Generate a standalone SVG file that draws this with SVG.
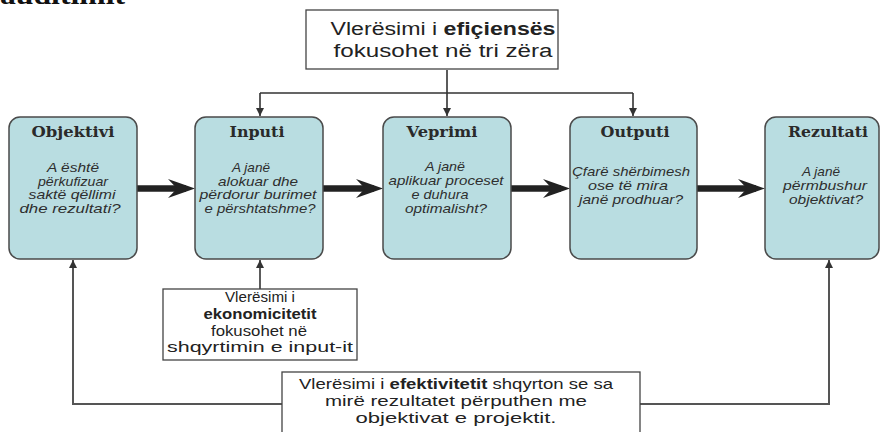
<svg xmlns="http://www.w3.org/2000/svg" width="881" height="432" viewBox="0 0 881 432">
<defs>
<style>
.box{fill:#b9dde1;stroke:#4a4a4a;stroke-width:1.5}
.note{fill:#fff;stroke:#444;stroke-width:1.3}
.title{font-family:"DejaVu Serif","Liberation Serif",serif;font-weight:bold;font-size:15px;fill:#2a2a2a;text-anchor:middle}
.q{font-family:"Liberation Sans",Arial,sans-serif;font-style:italic;font-size:13.5px;fill:#2e2e2e;text-anchor:middle}
.n{font-family:"Liberation Sans",Arial,sans-serif;font-size:15px;fill:#222;text-anchor:middle}
.big{font-size:18px}
.thin{fill:none;stroke:#333;stroke-width:1.6}
.thick{stroke:#222;stroke-width:6.5;fill:none}
</style>
<marker id="ah" markerUnits="userSpaceOnUse" markerWidth="10" markerHeight="10" refX="8" refY="4" orient="auto">
<path d="M0,0 L8,4 L0,8 Z" fill="#333"/>
</marker>
<marker id="big" markerUnits="userSpaceOnUse" markerWidth="28" markerHeight="20" refX="18" refY="9.5" orient="auto">
<path d="M0,0 L27,9.5 L0,19 L9,9.5 Z" fill="#222"/>
</marker>
</defs>
<rect width="881" height="432" fill="#fff"/>
<text x="0" y="4" font-family="Liberation Serif,serif" font-weight="bold" font-size="28" fill="#111" textLength="125" lengthAdjust="spacingAndGlyphs">auditimit</text>

<g id="connectors">
<path class="thin" d="M447,70 V93 M260,93 H633"/>
<path class="thin" d="M260,93 V116" marker-end="url(#ah)"/>
<path class="thin" d="M447,93 V116" marker-end="url(#ah)"/>
<path class="thin" d="M633,93 V116" marker-end="url(#ah)"/>
<path class="thin" d="M260,289 V260" marker-end="url(#ah)"/>
<path class="thin" d="M282,404 H73 V260" marker-end="url(#ah)" style="stroke:#555;stroke-width:2"/>
<path class="thin" d="M640,404 H829 V260" marker-end="url(#ah)" style="stroke:#555;stroke-width:2"/>
<path class="thick" d="M137,188.5 H186" marker-end="url(#big)"/>
<path class="thick" d="M323,188.5 H374" marker-end="url(#big)"/>
<path class="thick" d="M511,188.5 H561" marker-end="url(#big)"/>
<path class="thick" d="M697,188.5 H756" marker-end="url(#big)"/>
</g>

<g id="top-note">
<rect class="note" x="306" y="10" width="252" height="59"/>
<text class="n big" x="443" y="35" textLength="225" lengthAdjust="spacingAndGlyphs">Vlerësimi i <tspan font-weight="bold">efiçiensës</tspan></text>
<text class="n big" x="443" y="57" textLength="219" lengthAdjust="spacingAndGlyphs">fokusohet në tri zëra</text>
</g>

<g id="objektivi">
<rect class="box" x="9" y="117" width="128" height="142" rx="11"/>
<text class="title" x="73" y="137" textLength="83" lengthAdjust="spacingAndGlyphs">Objektivi</text>
<text class="q" x="73" y="172" textLength="52" lengthAdjust="spacingAndGlyphs">A është</text>
<text class="q" x="73" y="186" textLength="70" lengthAdjust="spacingAndGlyphs">përkufizuar</text>
<text class="q" x="72" y="199" textLength="87" lengthAdjust="spacingAndGlyphs">saktë qëllimi</text>
<text class="q" x="70" y="213" textLength="101" lengthAdjust="spacingAndGlyphs">dhe rezultati?</text>
</g>

<g id="inputi">
<rect class="box" x="195" y="117" width="128" height="142" rx="11"/>
<text class="title" x="257" y="137" textLength="55" lengthAdjust="spacingAndGlyphs">Inputi</text>
<text class="q" x="251" y="172" textLength="38" lengthAdjust="spacingAndGlyphs">A janë</text>
<text class="q" x="258" y="186" textLength="80" lengthAdjust="spacingAndGlyphs">alokuar dhe</text>
<text class="q" x="258" y="199" textLength="117" lengthAdjust="spacingAndGlyphs">përdorur burimet</text>
<text class="q" x="260" y="213" textLength="111" lengthAdjust="spacingAndGlyphs">e përshtatshme?</text>
</g>

<g id="veprimi">
<rect class="box" x="383" y="117" width="128" height="142" rx="11"/>
<text class="title" x="442" y="137" textLength="71" lengthAdjust="spacingAndGlyphs">Veprimi</text>
<text class="q" x="445" y="171" textLength="40" lengthAdjust="spacingAndGlyphs">A janë</text>
<text class="q" x="446" y="185" textLength="115" lengthAdjust="spacingAndGlyphs">aplikuar proceset</text>
<text class="q" x="440" y="199" textLength="57" lengthAdjust="spacingAndGlyphs">e duhura</text>
<text class="q" x="446" y="213" textLength="82" lengthAdjust="spacingAndGlyphs">optimalisht?</text>
</g>

<g id="outputi">
<rect class="box" x="570" y="117" width="127" height="142" rx="11"/>
<text class="title" x="635" y="137" textLength="69" lengthAdjust="spacingAndGlyphs">Outputi</text>
<text class="q" x="631" y="176" textLength="118" lengthAdjust="spacingAndGlyphs">Çfarë shërbimesh</text>
<text class="q" x="628" y="190" textLength="80" lengthAdjust="spacingAndGlyphs">ose të mira</text>
<text class="q" x="631" y="204" textLength="104" lengthAdjust="spacingAndGlyphs">janë prodhuar?</text>
</g>

<g id="rezultati">
<rect class="box" x="765" y="117" width="114" height="142" rx="11"/>
<text class="title" x="828" y="137" textLength="80" lengthAdjust="spacingAndGlyphs">Rezultati</text>
<text class="q" x="821" y="176" textLength="38" lengthAdjust="spacingAndGlyphs">A janë</text>
<text class="q" x="825" y="190" textLength="84" lengthAdjust="spacingAndGlyphs">përmbushur</text>
<text class="q" x="826" y="204" textLength="74" lengthAdjust="spacingAndGlyphs">objektivat?</text>
</g>

<g id="ekonomicitet-note">
<rect class="note" x="163" y="289" width="194" height="71"/>
<text class="n" x="260" y="302" textLength="70" lengthAdjust="spacingAndGlyphs">Vlerësimi i</text>
<text class="n" x="260" y="319" font-weight="bold" textLength="113" lengthAdjust="spacingAndGlyphs">ekonomicitetit</text>
<text class="n" x="259" y="336" textLength="96" lengthAdjust="spacingAndGlyphs">fokusohet në</text>
<text class="n" x="260" y="352" textLength="186" lengthAdjust="spacingAndGlyphs">shqyrtimin e input-it</text>
</g>

<g id="efektivitet-note">
<rect class="note" x="282" y="372" width="358" height="62"/>
<text class="n" x="456" y="389" textLength="314" lengthAdjust="spacingAndGlyphs">Vlerësimi i <tspan font-weight="bold">efektivitetit</tspan> shqyrton se sa</text>
<text class="n" x="456" y="406" textLength="262" lengthAdjust="spacingAndGlyphs">mirë rezultatet përputhen me</text>
<text class="n" x="456" y="423" textLength="201" lengthAdjust="spacingAndGlyphs">objektivat e projektit.</text>
</g>
</svg>
